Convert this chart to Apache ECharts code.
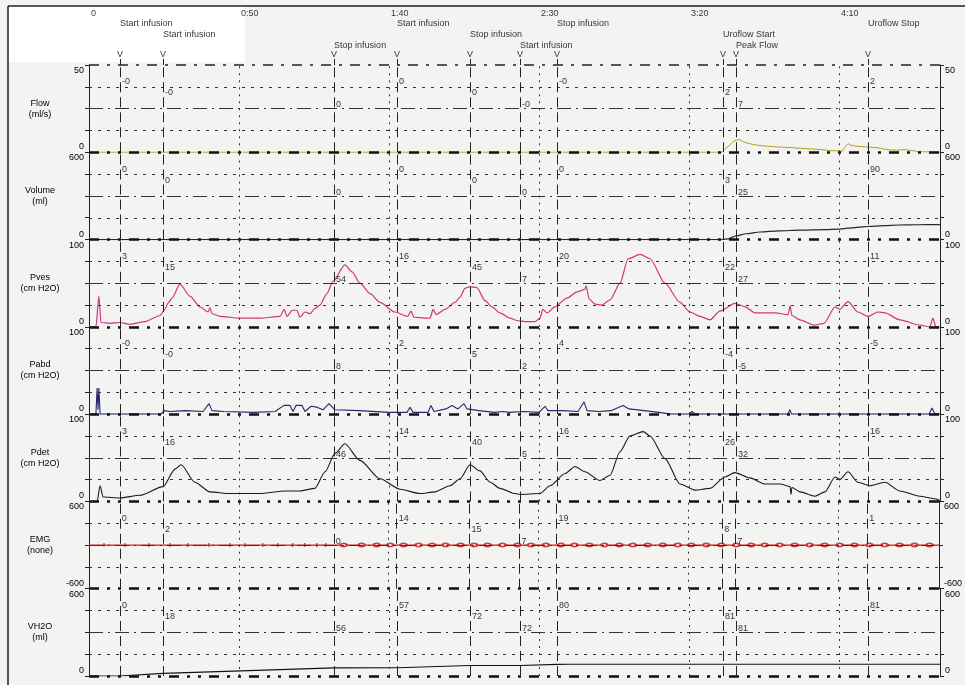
<!DOCTYPE html>
<html><head><meta charset="utf-8">
<script src="https://cdn.jsdelivr.net/npm/echarts@6/dist/echarts.min.js"></script>
<style>html,body{margin:0;padding:0;background:#f3f4f2}#c{width:965px;height:685px}</style>
</head><body><div id="c"></div>
<script>
// ---------- DATA ----------
const timeTicks = [0, 50, 100, 150, 200, 250];
const timeLabels = ['0', '0:50', '1:40', '2:30', '3:20', '4:10'];
const eventTimes = [10.3, 24.7, 81.7, 102.7, 127, 143.7, 156, 211.3, 215.7, 259.7];
const eventNames = ['Start infusion', 'Start infusion', 'Stop infusion', 'Start infusion', 'Stop infusion',
  'Start infusion', 'Stop infusion', 'Uroflow Start', 'Peak Flow', 'Uroflow Stop'];
const eventRows = [0, 1, 2, 0, 1, 2, 0, 1, 2, 0];

const channelNames = ['Flow\n(ml/s)', 'Volume\n(ml)', 'Pves\n(cm H2O)', 'Pabd\n(cm H2O)', 'Pdet\n(cm H2O)', 'EMG\n(none)', 'VH2O\n(ml)'];
const channelMin = [0, 0, 0, 0, 0, -600, 0];
const channelMax = [50, 600, 100, 100, 100, 600, 600];

const flowMarks = ['-0', '-0', '0', '0', '0', '-0', '-0', '2', '7', '2'];
const volumeMarks = ['0', '0', '0', '0', '0', '0', '0', '3', '25', '90'];
const pvesMarks = ['3', '15', '54', '16', '45', '7', '20', '22', '27', '11'];
const pabdMarks = ['-0', '-0', '8', '2', '5', '2', '4', '-4', '-5', '-5'];
const pdetMarks = ['3', '16', '46', '14', '40', '5', '16', '26', '32', '16'];
const emgMarks = ['0', '2', '0', '14', '15', '7', '19', '8', '7', '1'];
const vh2oMarks = ['0', '18', '56', '57', '72', '72', '80', '81', '81', '81'];

const flowData = [[0,0],[211,0],[212,2],[213.5,4],[215,6.5],[215.7,7],[216.3,6.2],[217,7.2],[218,6],[220,5],[223,4],
  [226,3.5],[230,3],[234,2.7],[238,2.2],[243,1.7],[247,1],[250,0.8],[251,0.5],[252,3],[253,5],[254,4],[256,3.4],
  [259.7,3],[263,2.5],[266,1.5],[269,1.2],[272,1.5],[275,0.8],[277,0.3],[280,0.2],[283.7,0]];
const volumeData = [[0,0],[211.3,0],[213,5],[215.7,25],[219,40],[223.7,52],[230,60],[237,65],[245,69],[250.3,72],
  [253,78],[256,84],[259.7,90],[265,96],[270,100],[276,102],[283.7,103]];
const pvesData = [[0,0],[2.3,0],[3.3,35],[4,5],[7,4],[10.3,5],[13.7,3],[18.7,6],[23.7,13],[25.3,20],[26.3,27],
  [27.7,33],[30.3,49],[33.7,35],[37,23],[39.7,17],[40.3,22],[41,15],[43.7,12],[50.3,10],[57,10],[63.7,12],[65,20],
  [66,12],[67.7,19],[69.3,19],[70.3,11],[72,17],[73.7,15],[75.3,21],[77,25],[79.3,38],[81.3,52],[85.3,71],[87.7,63],
  [90.3,50],[93.7,38],[97,28],[102,17],[106.3,12],[107.3,18],[108.3,11],[112,10],[113.7,10],[114.7,20],[115.7,14],
  [118.7,20],[122,28],[123.7,34],[125.3,44],[127,46],[129.3,45],[132,30],[134.3,23],[137,16],[140.3,10],[143,7],
  [145.3,6],[148.7,6],[150.3,10],[151.3,20],[152.7,16],[155.3,23],[159.3,33],[162.7,40],[165.3,43],[165.7,47],
  [166.7,32],[168.7,26],[171,25],[173.7,31],[177,50],[179.7,78],[183.7,83],[187,78],[192,50],[197,28],[200.3,17],
  [203.7,12],[207,8],[210.3,18],[215.3,27],[218.7,23],[222,16],[228.7,16],[233,14],[233.7,24],[234.3,13],[237,8],
  [241.7,2],[245,4],[248.7,23],[250.3,20],[253,29],[256.3,17],[259.7,12],[263,17],[265.3,16],[270.3,8],[277,2],
  [280.3,0],[281.3,10],[282.3,0],[283.7,0]];
const pabdData = [[0,0],[2.3,0],[2.7,30],[3.0,5],[3.3,30],[3.7,0],[10,0],[24,0],[25,4],[27,3],[32,4],[38,3],[40,12],
  [41,4],[45,3],[55,2],[62,3],[65,10],[67,10],[68,3],[69,10],[71,10],[72,3],[74,9],[76,8],[78,5],[80,12],[82,5],
  [90,4],[100,2],[106,2],[107,8],[108,2],[113,2],[114,10],[115,3],[119,6],[121,10],[123,6],[125,12],[126,6],[130,4],
  [135,2],[138,3],[140,2],[145,3],[150,2],[152,9],[153,4],[158,4],[163,3],[165,14],[166,4],[170,3],[174,4],[178,10],
  [180,6],[185,4],[190,2],[194,0],[200,0],[201,3],[202,0],[233,0],[233.6,5],[234.2,0],[280,0],[281,7],[282,0],[283.7,0]];
const pdetData = [[0,0],[2.7,0],[3.7,18],[4.7,5],[10.3,4],[17,7],[24.7,17],[28.7,37],[30.7,42],[35.3,22],[40.3,11],
  [47,9],[57,9],[65.3,12],[70.3,12],[75.3,15],[78.7,34],[82,55],[85.3,66],[90.3,47],[97,26],[103.7,14],[110.3,9],
  [115.3,11],[120.3,18],[123.7,26],[127,42],[130.3,35],[133.7,22],[137,15],[142,9],[143.7,8],[150.3,9],[153.7,18],
  [158.7,32],[162,40],[165.3,34],[170.3,24],[173.7,30],[177,57],[180.3,75],[184.7,80],[187,75],[192,49],[197,20],
  [202,13],[207,15],[212,28],[215.3,33],[220.3,27],[225.3,20],[230.3,20],[233.7,17],[234,8],[234.3,16],[237,11],
  [242,6],[245.3,11],[248.7,28],[250.3,25],[253,34],[256.3,22],[260.3,18],[265.3,22],[270.3,12],[277,6],[282,3],[283.7,1]];
const emgData = [[0,0],[283.7,0]];
const emgTickTimes = [5,12,20,27,33,40,47,52,58,63,68,72,76,79];
const emgBeadTimes = [85,91,96,100.5,105,110,114.5,119,124,128.5,133,138,143,147.5,152.5,157.5,162,167,172,177,
  181.5,186.5,191.5,196.5,201,206,211,216,221,225.5,230.5,235.5,240.5,245.5,250.5,255.5,260.5,265.5,270.5,275.5,280.5];
const vh2oData = [[0,0],[10.3,0],[24.7,18],[81.7,56],[102.7,57],[127,72],[143.7,72],[156,80],[160,81],[283.7,81]];

// ---------- BUILD ----------
const channelData = [flowData, volumeData, pvesData, pabdData, pdetData, emgData, vh2oData];
const channelMarks = [flowMarks, volumeMarks, pvesMarks, pabdMarks, pdetMarks, emgMarks, vh2oMarks];
const lineColors = ['#b3a11d', '#1f2d24', '#d3347f', '#262670', '#1a1a1a', '#c8201e', '#111111'];
const lineWidths = [1, 1.2, 1.2, 1.1, 1.1, 1.2, 1.1];
const lineSmooth = [0, 0.3, 0.25, 0, 0.25, 0, 0];

const FONT = 'Liberation Sans, Arial, sans-serif';
const TXT = '#000';
const T_MAX = 283.67;
const TOP0 = 65, PH = 611 / 7;
const markOffsets = [17, 28, 40];

const grids = [], xAxes = [], yAxes = [], series = [];

// header grid
grids.push({left: 89, right: 25, top: 0, height: 65});
xAxes.push({type: 'value', gridIndex: 0, min: 0, max: T_MAX, show: false});
yAxes.push({type: 'value', gridIndex: 0, min: 0, max: 65, inverse: true, show: false});
const lbl = {show: true, fontSize: 9, color: TXT, fontFamily: FONT};
series.push({
  type: 'scatter', xAxisIndex: 0, yAxisIndex: 0, symbolSize: 0, silent: true,
  data: timeTicks.map((t, i) => ({value: [t, 14], label: Object.assign({}, lbl, {position: 'right', distance: 2, formatter: timeLabels[i]})}))
});
const rowY = [24, 35, 46];
series.push({
  type: 'scatter', xAxisIndex: 0, yAxisIndex: 0, symbolSize: 0, silent: true,
  data: eventTimes.map((t, i) => ({value: [t, rowY[eventRows[i]]], label: Object.assign({}, lbl, {position: 'right', distance: 0, formatter: eventNames[i]})}))
});
series.push({
  type: 'scatter', xAxisIndex: 0, yAxisIndex: 0, symbolSize: 0, silent: true,
  data: eventTimes.map(t => ({value: [t, 55], label: Object.assign({}, lbl, {position: 'inside', formatter: 'V'})})),
  markLine: {symbol: 'none', silent: true, label: {show: false}, animation: false,
    data: eventTimes.map(t => [{coord: [t, 59], lineStyle: {type: 'solid', color: '#222', width: 1}}, {coord: [t, 65]}])}
});

channelNames.forEach((name, i) => {
  const g = i + 1;
  const min = channelMin[i], max = channelMax[i], q = (max - min) / 4;
  grids.push({left: 89, right: 25, top: TOP0 + i * PH, height: PH});
  xAxes.push({type: 'value', gridIndex: g, min: 0, max: T_MAX, show: false});
  const fmt = v => Math.abs(v - max) < 1e-9 ? '{t|' + max + '}' : (Math.abs(v - min) < 1e-9 ? '{b|' + min + '}' : '');
  const rich = {
    t: {padding: [11, 0, 0, 0], fontSize: 9, color: TXT, fontFamily: FONT},
    b: {padding: [0, 0, 11, 0], fontSize: 9, color: TXT, fontFamily: FONT}
  };
  const common = {
    type: 'value', gridIndex: g, min: min, max: max, interval: q,
    axisLine: {show: true, lineStyle: {color: '#222', width: 1}},
    axisTick: {show: true, length: 4, lineStyle: {color: '#222'}},
    splitLine: {show: false},
  };
  const leftIdx = yAxes.length;
  yAxes.push(Object.assign({}, common, {
    position: 'left',
    axisLabel: {show: true, margin: 5, formatter: fmt, rich: rich, showMinLabel: true, showMaxLabel: true},
    name: name, nameLocation: 'middle', nameGap: 49, nameRotate: 0,
    nameTextStyle: {align: 'center', verticalAlign: 'middle', fontSize: 9, lineHeight: 11, color: TXT, fontFamily: FONT}
  }));
  yAxes.push(Object.assign({}, common, {
    position: 'right',
    axisLabel: {show: true, margin: 5, formatter: fmt, rich: rich, showMinLabel: true, showMaxLabel: true}
  }));

  const dotted = {type: [3, 6], color: '#333', width: 1};
  const dashDot = {type: [14, 5, 2, 5], color: '#333', width: 1};
  const thick = {type: [10, 8, 3, 8, 3, 8], color: '#111', width: 2.6};
  const mld = [
    {yAxis: min + q, lineStyle: dotted},
    {yAxis: min + 2 * q, lineStyle: dashDot},
    {yAxis: min + 3 * q, lineStyle: dotted},
    {yAxis: min, lineStyle: thick}
  ];
  if (i === 0) mld.push({yAxis: max, lineStyle: {type: [10, 8, 3, 8], color: '#222', width: 1.6}});
  timeTicks.slice(1).forEach(t => mld.push({xAxis: t, lineStyle: {type: [2, 5], color: '#333', width: 1}}));
  eventTimes.forEach(t => mld.push({xAxis: t, lineStyle: {type: [10, 5], color: '#222', width: 1}}));

  series.push({
    type: 'line', xAxisIndex: g, yAxisIndex: leftIdx, data: [[0, min]], showSymbol: false, silent: true,
    lineStyle: {opacity: 0}, z: 1,
    markLine: {symbol: 'none', silent: true, animation: false, label: {show: false}, data: mld}
  });
  series.push({
    type: 'line', xAxisIndex: g, yAxisIndex: leftIdx, data: channelData[i], showSymbol: false, silent: true,
    smooth: lineSmooth[i], smoothMonotone: 'x',
    lineStyle: {color: lineColors[i], width: lineWidths[i]}, z: 3
  });
  series.push({
    type: 'scatter', xAxisIndex: g, yAxisIndex: leftIdx, symbolSize: 0, silent: true, z: 5,
    data: eventTimes.map((t, k) => ({
      value: [t, max - markOffsets[eventRows[k]] / PH * (max - min)],
      label: Object.assign({}, lbl, {position: 'right', distance: 2, formatter: channelMarks[i][k]})
    }))
  });
  if (i === 5) {
    series.push({
      type: 'scatter', xAxisIndex: g, yAxisIndex: leftIdx, silent: true, z: 4,
      symbol: 'emptyCircle', symbolSize: [6, 3.5],
      itemStyle: {color: '#c8201e', borderColor: '#c8201e', borderWidth: 0.9, opacity: 0.85},
      data: emgBeadTimes.map(t => [t, 0])
    });
    series.push({
      type: 'scatter', xAxisIndex: g, yAxisIndex: leftIdx, silent: true, z: 4,
      symbol: 'rect', symbolSize: [1.2, 4], itemStyle: {color: '#8a1a1a'},
      data: emgTickTimes.map(t => [t, 0])
    });
  }
});

const chart = echarts.init(document.getElementById('c'), null, {renderer: 'canvas'});
chart.setOption({
  backgroundColor: '#f3f4f2',
  animation: false,
  textStyle: {fontFamily: FONT},
  graphic: [
    {type: 'rect', z: -10, left: 8, top: 6, shape: {width: 237, height: 56}, style: {fill: '#ffffff'}},
    {type: 'line', z: 10, shape: {x1: 8, y1: 6, x2: 965, y2: 6}, style: {stroke: '#222', lineWidth: 1.5}},
    {type: 'line', z: 10, shape: {x1: 8, y1: 6, x2: 8, y2: 685}, style: {stroke: '#222', lineWidth: 1.5}}
  ],
  grid: grids, xAxis: xAxes, yAxis: yAxes, series: series
});
</script></body></html>
